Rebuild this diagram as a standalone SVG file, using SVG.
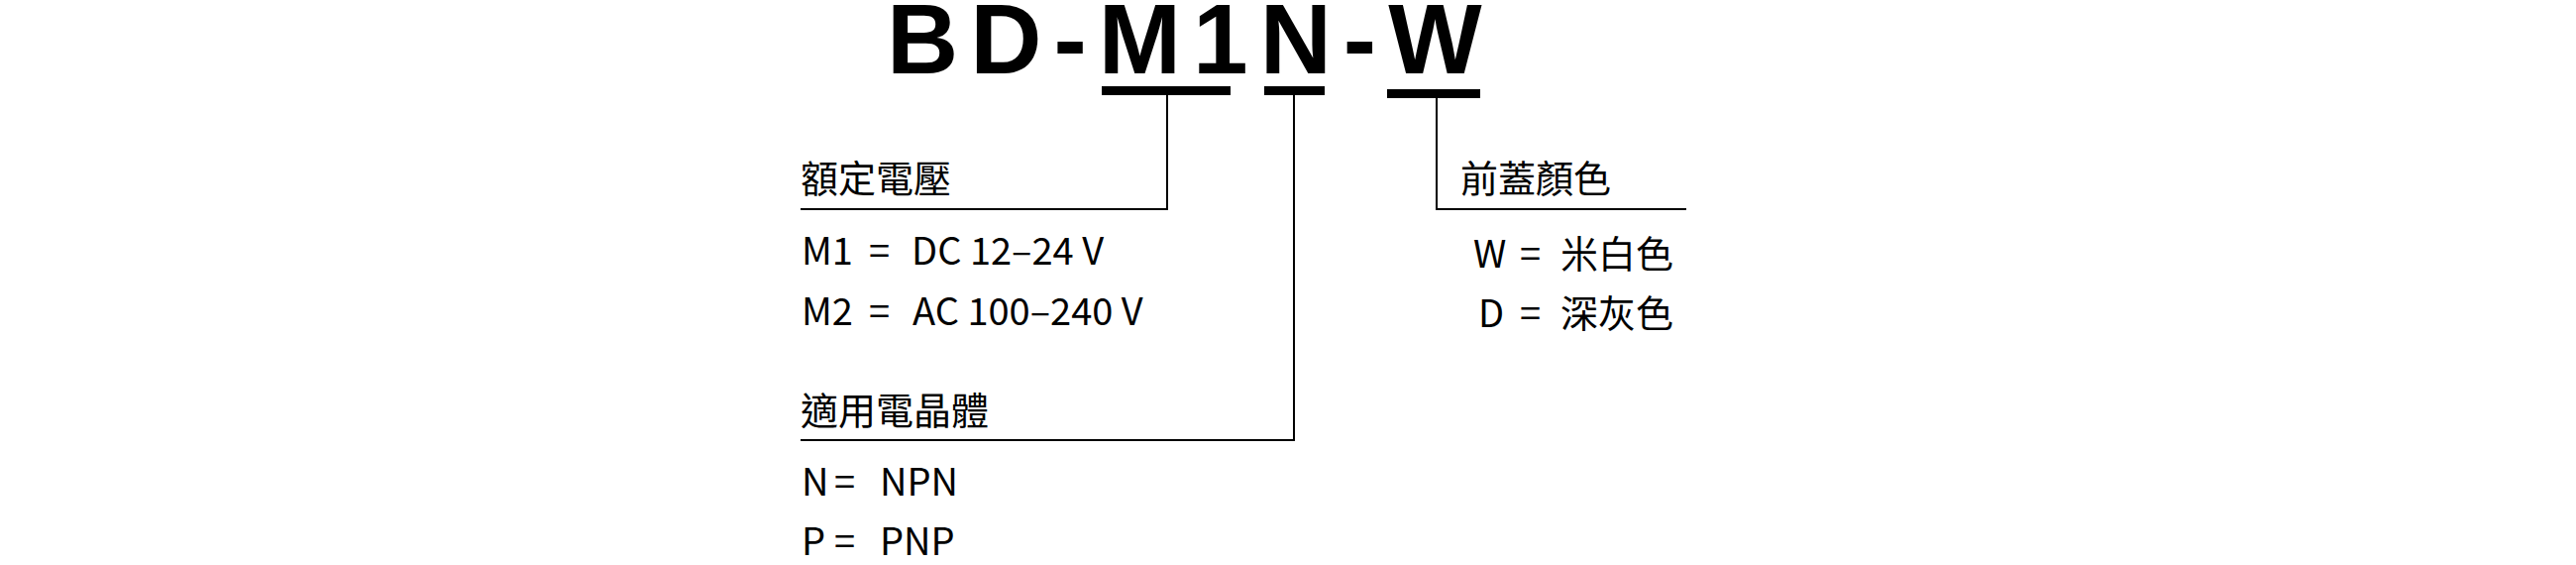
<svg xmlns="http://www.w3.org/2000/svg" width="2600" height="570" viewBox="0 0 2600 570">
<style>
.title{font-family:"Liberation Sans",Arial,sans-serif;font-weight:bold;font-size:100px;letter-spacing:12px;fill:#000}
.t{font-family:"Noto Sans CJK TC","Noto Sans",sans-serif;font-size:38px;fill:#000}
.bar{stroke:#000;stroke-width:9;fill:none}
.ln{stroke:#000;stroke-width:2;fill:none}
</style>
<rect width="2600" height="570" fill="#fff"/>
<g id="title"><text class="title" x="895" y="74">BD-M1N-W</text></g>
<g id="connectors">
<path class="bar" d="M1112 91.5H1242"/>
<path class="bar" d="M1276 91.5H1337"/>
<path class="bar" d="M1400 94.5H1494"/>
<path class="ln" d="M1178 96V211H808"/>
<path class="ln" d="M1306 96V444H808"/>
<path class="ln" d="M1450 99V211H1702"/>
</g>
<g id="voltage">
<text class="t" x="808" y="194">額定電壓</text>
<text class="t" x="809" y="267">M1</text>
<text class="t" x="877" y="267">=</text>
<text class="t" x="920" y="267">DC 12–24 V</text>
<text class="t" x="809" y="328">M2</text>
<text class="t" x="877" y="328">=</text>
<text class="t" x="921" y="328">AC 100–240 V</text>
</g>
<g id="transistor">
<text class="t" x="808" y="428">適用電晶體</text>
<text class="t" x="809" y="500">N</text>
<text class="t" x="842" y="500">=</text>
<text class="t" x="888" y="500">NPN</text>
<text class="t" x="809" y="560">P</text>
<text class="t" x="842" y="560">=</text>
<text class="t" x="888" y="560">PNP</text>
</g>
<g id="color">
<text class="t" x="1474" y="194">前蓋顏色</text>
<text class="t" x="1487" y="270">W</text>
<text class="t" x="1534" y="270">=</text>
<text class="t" x="1575" y="270">米白色</text>
<text class="t" x="1492" y="330">D</text>
<text class="t" x="1534" y="330">=</text>
<text class="t" x="1575" y="330">深灰色</text>
</g>
</svg>
